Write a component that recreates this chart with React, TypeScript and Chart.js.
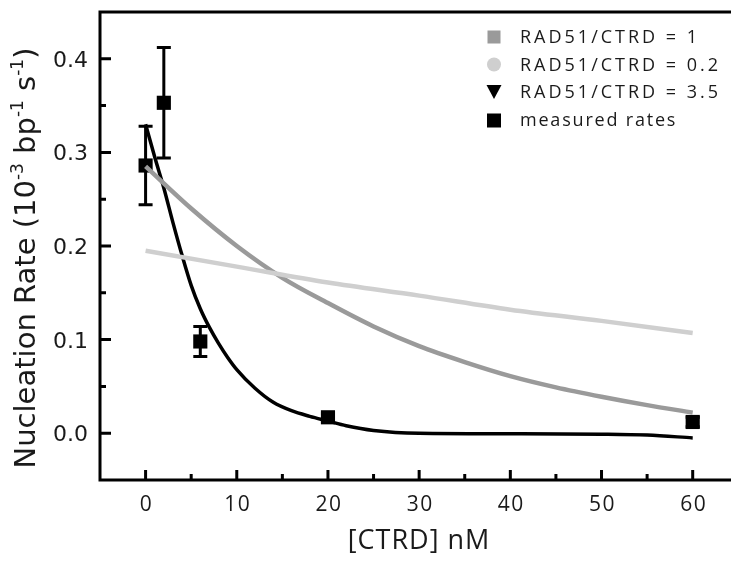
import { useEffect, useRef } from 'react';
import { Chart, registerables } from 'chart.js';
Chart.register(...registerables);

// measured rates
const measuredX = [0, 2, 6, 20, 60];
const measuredY = [0.286, 0.353, 0.098, 0.017, 0.012];
const measuredErr = [0.042, 0.059, 0.016, 0.004, 0.005];

// RAD51/CTRD = 1 model curve
const fit1X = [0, 5, 10, 15, 20, 25, 30, 35, 40, 45, 50, 55, 60];
const fit1Y = [0.285, 0.24, 0.2, 0.166, 0.139, 0.114, 0.093, 0.076, 0.061, 0.049, 0.039, 0.03, 0.022];

// RAD51/CTRD = 0.2 model curve
const fit02X = [0, 10, 20, 30, 40, 50, 60];
const fit02Y = [0.195, 0.178, 0.161, 0.147, 0.132, 0.12, 0.107];

// RAD51/CTRD = 3.5 model curve
const fit35X = [0, 1, 2, 3, 4, 5, 6, 7, 8, 9, 10, 12, 14, 16, 18, 20, 22, 25, 30, 40, 50, 55, 60];
const fit35Y = [0.33, 0.295, 0.262, 0.225, 0.19, 0.158, 0.133, 0.113, 0.096, 0.081, 0.068, 0.048, 0.033, 0.024, 0.018, 0.013, 0.008, 0.003, 0.0, -0.0005, -0.001, -0.002, -0.005];

const xTicks = [0, 10, 20, 30, 40, 50, 60];
const xMinorTicks = [5, 15, 25, 35, 45, 55];
const yTicks = [0, 0.1, 0.2, 0.3, 0.4];
const yMinorTicks = [0.05, 0.15, 0.25, 0.35];
const yTickLabels = ['0.0', '0.1', '0.2', '0.3', '0.4'];

const legendLabels = ['RAD51/CTRD = 1', 'RAD51/CTRD = 0.2', 'RAD51/CTRD = 3.5', 'measured rates'];
const xTitle = '[CTRD] nM';

const DARK = '#9a9a9a';
const LIGHT = '#cfcfcf';

const pts = (xs: number[], ys: number[]) => xs.map((x, i) => ({ x, y: ys[i] }));

const drawPlugin = {
  id: 'drawPlugin',
  beforeDatasetDraw(chart: any, args: any) {
    if (args.index !== 3) return;
    const { ctx, scales } = chart;
    const xs = scales.x, ys = scales.y;
    ctx.save();
    ctx.strokeStyle = '#000';
    ctx.lineWidth = 3;
    ctx.lineCap = 'butt';
    measuredX.forEach((x, i) => {
      const px = xs.getPixelForValue(x);
      const top = ys.getPixelForValue(measuredY[i] + measuredErr[i]);
      const bot = ys.getPixelForValue(measuredY[i] - measuredErr[i]);
      ctx.beginPath();
      ctx.moveTo(px, top);
      ctx.lineTo(px, bot);
      ctx.moveTo(px - 7, top);
      ctx.lineTo(px + 7, top);
      ctx.moveTo(px - 7, bot);
      ctx.lineTo(px + 7, bot);
      ctx.stroke();
    });
    ctx.restore();
  },
  afterDraw(chart: any) {
    const { ctx, chartArea: a, scales } = chart;
    const xs = scales.x, ys = scales.y;
    ctx.save();
    ctx.strokeStyle = '#000';
    ctx.fillStyle = '#000';
    ctx.lineWidth = 3;
    // frame: left, bottom, top
    ctx.beginPath();
    ctx.moveTo(a.left, a.top);
    ctx.lineTo(a.right, a.top);
    ctx.moveTo(a.left, a.top - 1.5);
    ctx.lineTo(a.left, a.bottom + 1.5);
    ctx.moveTo(a.left - 1.5, a.bottom);
    ctx.lineTo(a.right, a.bottom);
    ctx.stroke();
    // ticks
    ctx.beginPath();
    xTicks.forEach((v) => {
      const p = xs.getPixelForValue(v);
      ctx.moveTo(p, a.bottom);
      ctx.lineTo(p, a.bottom - 10);
    });
    xMinorTicks.forEach((v) => {
      const p = xs.getPixelForValue(v);
      ctx.moveTo(p, a.bottom);
      ctx.lineTo(p, a.bottom - 6);
    });
    yTicks.forEach((v) => {
      const p = ys.getPixelForValue(v);
      ctx.moveTo(a.left, p);
      ctx.lineTo(a.left + 11, p);
    });
    yMinorTicks.forEach((v) => {
      const p = ys.getPixelForValue(v);
      ctx.moveTo(a.left, p);
      ctx.lineTo(a.left + 6, p);
    });
    ctx.stroke();

    // x tick labels
    ctx.fillStyle = '#1a1a1a';
    ctx.font = '21px "Open Sans"';
    (ctx as any).letterSpacing = '1.5px';
    ctx.textAlign = 'center';
    ctx.textBaseline = 'alphabetic';
    xTicks.forEach((v) => {
      ctx.fillText(String(v), xs.getPixelForValue(v) + 1, 511);
    });
    // y tick labels
    (ctx as any).letterSpacing = '0px';
    ctx.font = '22px "DejaVu Sans"';
    ctx.textAlign = 'right';
    yTicks.forEach((v, i) => {
      ctx.fillText(yTickLabels[i], 88, ys.getPixelForValue(v) + 8);
    });

    // x title
    ctx.font = '27px "Open Sans"';
    (ctx as any).letterSpacing = '1px';
    ctx.textAlign = 'center';
    ctx.fillText(xTitle, 419, 549);
    (ctx as any).letterSpacing = '0px';

    // y title with superscripts
    const big = '29px "DejaVu Sans"';
    const small = '17px "DejaVu Sans"';
    const segs: [string, boolean][] = [
      ['Nucleation Rate (10', false],
      ['-3', true],
      [' bp', false],
      ['-1', true],
      [' s', false],
      ['-1', true],
      [')', false],
    ];
    let total = 0;
    segs.forEach(([t, sup]) => {
      ctx.font = sup ? small : big;
      total += ctx.measureText(t).width;
    });
    ctx.save();
    ctx.translate(35, 258);
    ctx.rotate(-Math.PI / 2);
    ctx.textAlign = 'left';
    let cx = -total / 2;
    segs.forEach(([t, sup]) => {
      ctx.font = sup ? small : big;
      ctx.fillText(t, cx, sup ? -12 : 0);
      cx += ctx.measureText(t).width;
    });
    ctx.restore();

    // legend
    const rows = [37, 64.5, 92, 120];
    const mx = 494;
    ctx.fillStyle = DARK;
    ctx.fillRect(mx - 6.5, rows[0] - 6.5, 13, 13);
    ctx.fillStyle = LIGHT;
    ctx.beginPath();
    ctx.arc(mx, rows[1], 7, 0, Math.PI * 2);
    ctx.fill();
    ctx.fillStyle = '#000';
    ctx.beginPath();
    ctx.moveTo(mx - 7.5, rows[2] - 7);
    ctx.lineTo(mx + 7.5, rows[2] - 7);
    ctx.lineTo(mx, rows[2] + 7);
    ctx.closePath();
    ctx.fill();
    ctx.fillRect(mx - 7, rows[3] - 6.5, 14, 14);

    ctx.fillStyle = '#1a1a1a';
    ctx.font = '18px "Open Sans"';
    ctx.textAlign = 'left';
    ctx.textBaseline = 'middle';
    legendLabels.forEach((t, i) => {
      (ctx as any).letterSpacing = i < 3 ? '3px' : '1.8px';
      ctx.fillText(t, 520, rows[i] + 1);
    });
    (ctx as any).letterSpacing = '0px';
    ctx.restore();
  },
};

export default function App() {
  const ref = useRef<HTMLCanvasElement>(null);
  useEffect(() => {
    const canvas = ref.current;
    if (!canvas) return;
    const chart = new Chart(canvas, {
      type: 'scatter',
      data: {
        datasets: [
          {
            label: legendLabels[1],
            data: pts(fit02X, fit02Y),
            showLine: true,
            borderColor: LIGHT,
            borderWidth: 4.5,
            pointRadius: 0,
            cubicInterpolationMode: 'monotone',
          },
          {
            label: legendLabels[0],
            data: pts(fit1X, fit1Y),
            showLine: true,
            borderColor: DARK,
            borderWidth: 4.5,
            pointRadius: 0,
            cubicInterpolationMode: 'monotone',
          },
          {
            label: legendLabels[2],
            data: pts(fit35X, fit35Y),
            showLine: true,
            borderColor: '#000',
            borderWidth: 3.5,
            pointRadius: 0,
            cubicInterpolationMode: 'monotone',
          },
          {
            label: legendLabels[3],
            data: pts(measuredX, measuredY),
            showLine: false,
            pointStyle: 'rect',
            pointRadius: 10,
            backgroundColor: '#000',
            borderColor: '#000',
            borderWidth: 0,
          },
        ] as any,
      },
      options: {
        animation: false,
        responsive: false,
        maintainAspectRatio: false,
        layout: { autoPadding: false, padding: { top: 12, left: 0, right: 0, bottom: 0 } },
        plugins: { legend: { display: false }, tooltip: { enabled: false }, title: { display: false } },
        scales: {
          x: {
            type: 'linear',
            min: -5,
            max: 64.2,
            grid: { display: false },
            border: { display: false },
            ticks: { display: false },
            afterFit: (s: any) => { s.height = 82; s.paddingLeft = 0; s.paddingRight = 0; },
          },
          y: {
            type: 'linear',
            min: -0.05,
            max: 0.45,
            grid: { display: false },
            border: { display: false },
            ticks: { display: false },
            afterFit: (s: any) => { s.width = 100; s.paddingTop = 0; s.paddingBottom = 0; },
          },
        },
      } as any,
      plugins: [drawPlugin],
    });
    return () => chart.destroy();
  }, []);
  return (
    <div style={{ position: 'fixed', left: 0, top: 0, width: 731, height: 562, background: '#fff' }}>
      <canvas ref={ref} width={731} height={562} style={{ display: 'block', width: 731, height: 562 }} />
    </div>
  );
}
